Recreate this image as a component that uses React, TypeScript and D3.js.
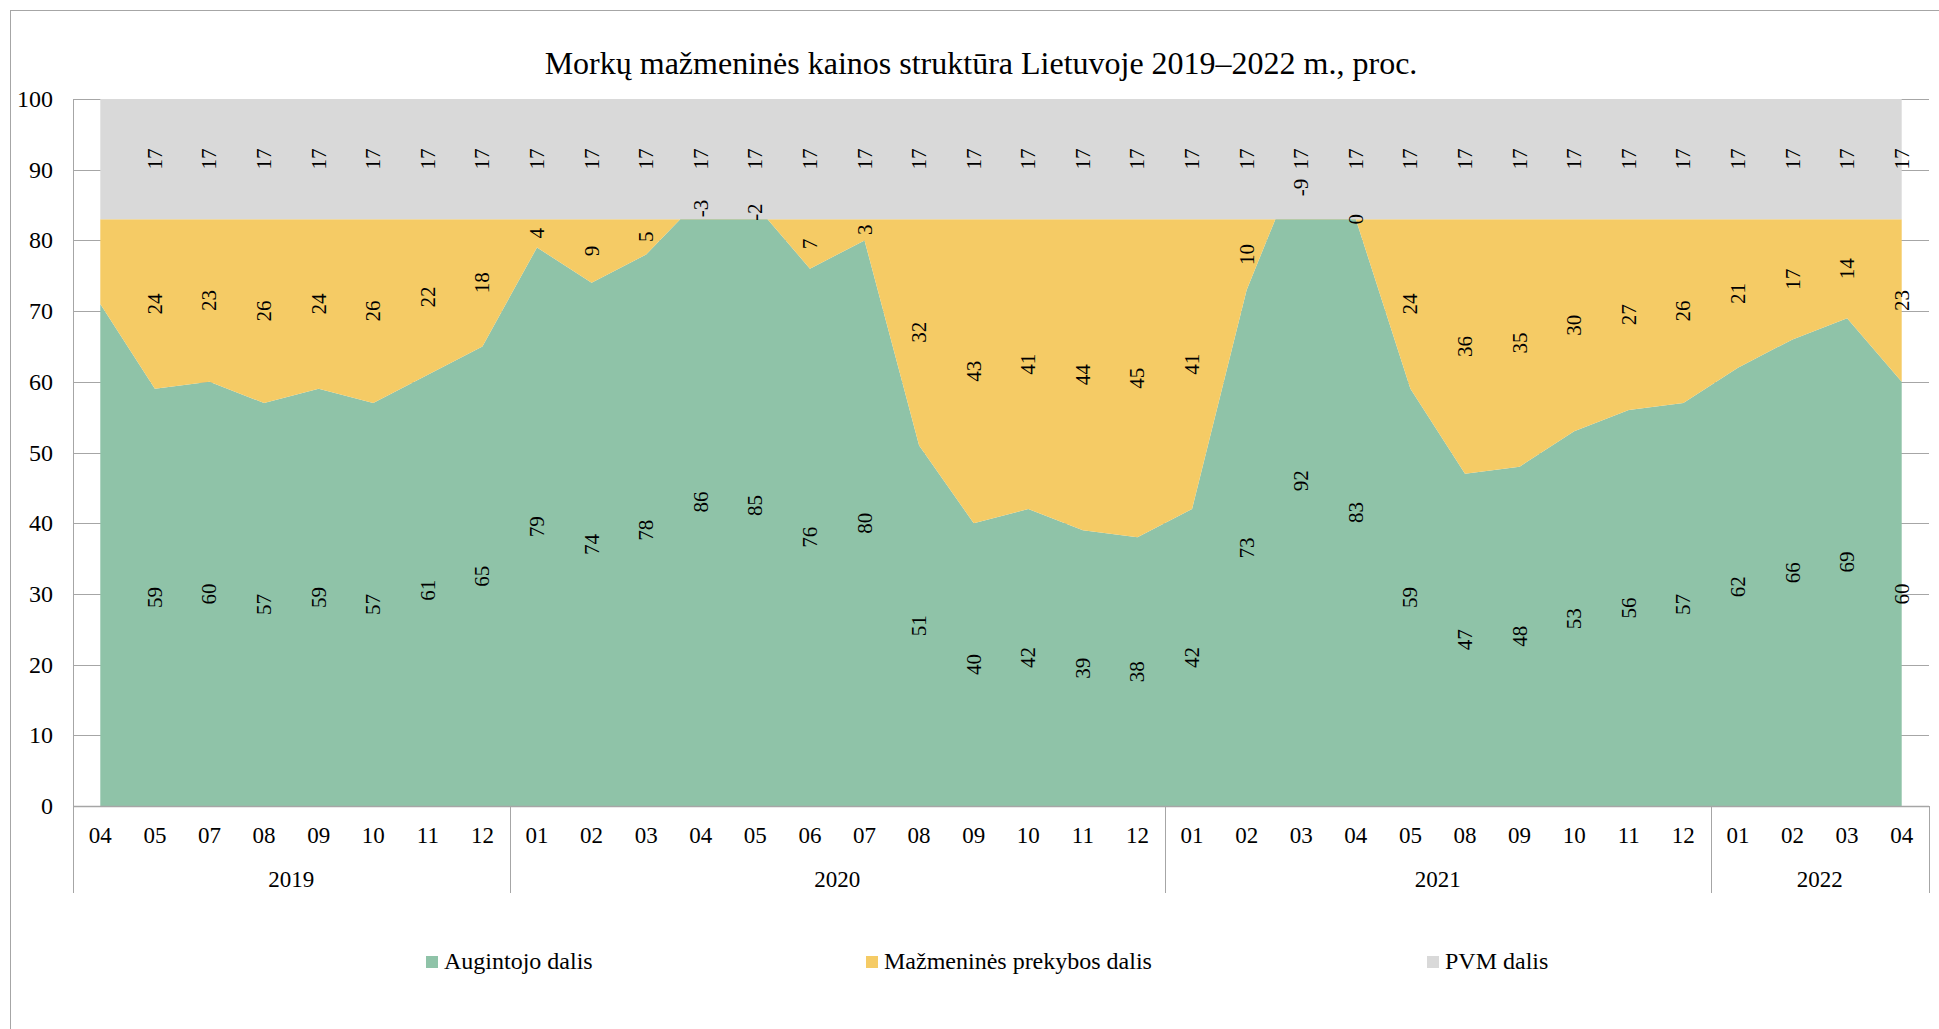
import React from "react";
import * as d3 from "d3";

const years = ["2019", "2020", "2021", "2022"];
const months2019 = ["04", "05", "07", "08", "09", "10", "11", "12"];
const months2020 = ["01", "02", "03", "04", "05", "06", "07", "08", "09", "10", "11", "12"];
const months2021 = ["01", "02", "03", "04", "05", "08", "09", "10", "11", "12"];
const months2022 = ["01", "02", "03", "04"];
const monthGroups = [months2019, months2020, months2021, months2022];

const grower = [
  71, 59, 60, 57, 59, 57, 61, 65,
  79, 74, 78, 86, 85, 76, 80, 51, 40, 42, 39, 38,
  42, 73, 92, 83, 59, 47, 48, 53, 56, 57,
  62, 66, 69, 60,
];
const retail = [
  12, 24, 23, 26, 24, 26, 22, 18,
  4, 9, 5, -3, -2, 7, 3, 32, 43, 41, 44, 45,
  41, 10, -9, 0, 24, 36, 35, 30, 27, 26,
  21, 17, 14, 23,
];
const vat = [
  17, 17, 17, 17, 17, 17, 17, 17,
  17, 17, 17, 17, 17, 17, 17, 17, 17, 17, 17, 17,
  17, 17, 17, 17, 17, 17, 17, 17, 17, 17,
  17, 17, 17, 17,
];
// first point carries no data labels in the reference
const showLabel = grower.map((_, i) => i !== 0);

const seriesNames = ["Augintojo dalis", "Mažmeninės prekybos dalis", "PVM dalis"];
const seriesColors = ["#8FC3A8", "#F5CB65", "#D9D9D9"];
const yTicks = [0, 10, 20, 30, 40, 50, 60, 70, 80, 90, 100];
const title = "Morkų mažmeninės kainos struktūra Lietuvoje 2019–2022 m., proc.";

const FONT = "'Liberation Serif', 'Times New Roman', serif";

export default function App() {
  const W = 1939;
  const H = 1029;
  const left = 73;
  const right = 1929;
  const top = 99;
  const bottom = 806;
  const axisBottom = 893;

  const n = grower.length;
  const idx = d3.range(n);
  const x = d3.scaleBand<number>().domain(idx).range([left, right]).padding(0);
  const bw = x.bandwidth();
  const cx = (i: number) => (x(i) as number) + bw / 2;
  const y = d3.scaleLinear().domain([0, 100]).range([bottom, top]);

  const s1 = grower.map((g) => [0, g]);
  const s2 = grower.map((g, i) => [g, g + retail[i]]);
  const s3 = grower.map((g, i) => [g + retail[i], g + retail[i] + vat[i]]);
  const stacks = [s1, s2, s3];

  const area = d3
    .area<number[]>()
    .x((_, i) => cx(i))
    .y0((d) => y(d[0]))
    .y1((d) => y(d[1]));

  const labelSets = [grower, retail, vat];

  // group boundaries
  const groupStarts: number[] = [];
  let acc = 0;
  monthGroups.forEach((g) => {
    groupStarts.push(acc);
    acc += g.length;
  });
  const allMonths = monthGroups.flat();

  const legendX = [426, 866, 1427];

  return (
    <svg
      width={W}
      height={H}
      style={{ position: "absolute", left: 0, top: 0, background: "#fff" }}
      fontFamily={FONT}
    >
      <rect x={10.5} y={10.5} width={W + 20} height={H + 20} fill="#fff" stroke="#a6a6a6" strokeWidth={1} />
      <text x={981} y={74} textAnchor="middle" fontSize={32} fill="#000">
        {title}
      </text>

      {/* gridlines */}
      {yTicks.map((t) => (
        <line key={"g" + t} x1={left} x2={right} y1={Math.round(y(t)) + 0.5} y2={Math.round(y(t)) + 0.5} stroke="#a6a6a6" strokeWidth={1} />
      ))}

      {/* areas */}
      {stacks.map((s, k) => (
        <path key={"a" + k} d={area(s) as string} fill={seriesColors[k]} stroke="none" />
      ))}

      {/* axes */}
      <line x1={left + 0.5} x2={left + 0.5} y1={top} y2={axisBottom} stroke="#a6a6a6" strokeWidth={1} />
      <line x1={left} x2={right} y1={Math.round(y(0)) + 0.5} y2={Math.round(y(0)) + 0.5} stroke="#a6a6a6" strokeWidth={1.5} />
      {groupStarts.slice(1).concat([n]).map((gi) => {
        const xx = gi === n ? right : (x(gi) as number);
        return (
          <line key={"sep" + gi} x1={Math.round(xx) + 0.5} x2={Math.round(xx) + 0.5} y1={bottom} y2={axisBottom} stroke="#a6a6a6" strokeWidth={1} />
        );
      })}

      {/* y tick labels */}
      {yTicks.map((t) => (
        <text key={"yl" + t} x={53} y={y(t) + 8} textAnchor="end" fontSize={24} fill="#000">
          {t}
        </text>
      ))}

      {/* month labels */}
      {allMonths.map((m, i) => (
        <text key={"m" + i} x={cx(i)} y={843} textAnchor="middle" fontSize={23} fill="#000">
          {m}
        </text>
      ))}
      {/* year labels */}
      {years.map((yr, k) => {
        const s = groupStarts[k];
        const e = s + monthGroups[k].length;
        const x0 = x(s) as number;
        const x1 = e >= n ? right : (x(e) as number);
        return (
          <text key={"y" + yr} x={(x0 + x1) / 2} y={887} textAnchor="middle" fontSize={23} fill="#000">
            {yr}
          </text>
        );
      })}

      {/* data labels */}
      {stacks.map((s, k) =>
        s.map((d, i) =>
          showLabel[i] ? (
            <text
              key={"dl" + k + "-" + i}
              transform={`translate(${cx(i)},${y((d[0] + d[1]) / 2)}) rotate(-90)`}
              textAnchor="middle"
              dominantBaseline="central"
              fontSize={21}
              fill="#000"
            >
              {labelSets[k][i]}
            </text>
          ) : null
        )
      )}

      {/* legend */}
      {seriesNames.map((nm, k) => (
        <g key={"lg" + k}>
          <rect x={legendX[k]} y={956} width={12} height={12} fill={seriesColors[k]} />
          <text x={legendX[k] + 18} y={969} fontSize={24} fill="#000">
            {nm}
          </text>
        </g>
      ))}
    </svg>
  );
}
